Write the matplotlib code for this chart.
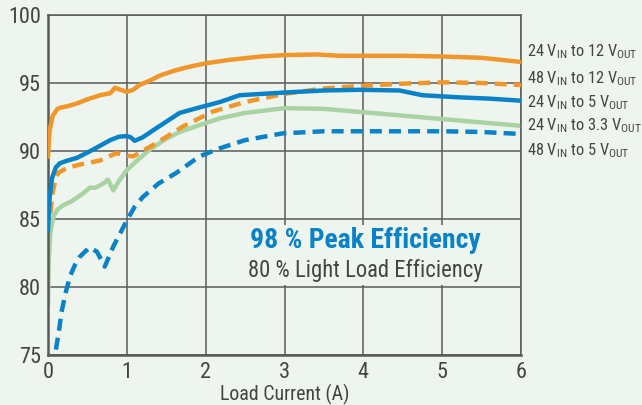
import matplotlib
matplotlib.use("Agg")
import matplotlib.pyplot as plt
from matplotlib import font_manager
from matplotlib.patches import Rectangle

# --- Data ---
x_24_12 = [0, 0.02, 0.06, 0.12, 0.17, 0.25, 0.37, 0.5, 0.66, 0.79, 0.85, 0.92, 1.0, 1.08, 1.16, 1.3, 1.42, 1.6, 1.76, 2.0, 2.3, 2.7, 3.0, 3.4, 3.7, 4.0, 4.5, 5.0, 5.5, 6.0]
y_24_12 = [89.6, 91.5, 92.6, 93.1, 93.2, 93.3, 93.5, 93.8, 94.1, 94.25, 94.65, 94.5, 94.35, 94.5, 94.85, 95.2, 95.55, 95.9, 96.15, 96.45, 96.7, 96.95, 97.05, 97.1, 97.0, 97.0, 97.0, 96.95, 96.85, 96.55]

x_48_12 = [0.03, 0.06, 0.1, 0.13, 0.24, 0.4, 0.66, 0.87, 0.95, 1.08, 1.2, 1.38, 1.71, 2.09, 2.5, 3.0, 3.5, 4.0, 4.5, 5.0, 5.5, 6.0]
y_48_12 = [85.4, 87.0, 88.0, 88.4, 88.75, 89.0, 89.3, 89.85, 89.7, 89.6, 90.0, 90.6, 91.8, 92.9, 93.6, 94.2, 94.6, 94.8, 94.95, 95.05, 95.0, 94.85]

x_24_5 = [0.0, 0.02, 0.05, 0.1, 0.15, 0.25, 0.37, 0.57, 0.79, 0.9, 1.0, 1.05, 1.1, 1.2, 1.38, 1.67, 1.92, 2.18, 2.43, 3.0, 3.5, 3.95, 4.46, 4.75, 5.2, 5.6, 6.0]
y_24_5 = [84.2, 86.5, 88.0, 88.8, 89.1, 89.3, 89.5, 90.1, 90.8, 91.05, 91.1, 91.0, 90.75, 91.0, 91.7, 92.8, 93.2, 93.6, 94.1, 94.3, 94.45, 94.5, 94.45, 94.1, 93.95, 93.85, 93.7]

x_24_33 = [0.0, 0.01, 0.03, 0.07, 0.12, 0.19, 0.3, 0.45, 0.53, 0.6, 0.7, 0.76, 0.83, 0.9, 1.0, 1.15, 1.29, 1.5, 1.67, 1.92, 2.18, 2.5, 3.0, 3.5, 4.0, 4.5, 5.0, 5.5, 6.0]
y_24_33 = [78.8, 82.0, 84.0, 85.2, 85.7, 86.0, 86.3, 86.9, 87.3, 87.3, 87.6, 87.9, 87.1, 87.8, 88.6, 89.4, 90.1, 90.9, 91.4, 91.9, 92.4, 92.8, 93.15, 93.1, 92.85, 92.6, 92.35, 92.1, 91.85]

x_48_5 = [0.1, 0.14, 0.17, 0.22, 0.28, 0.34, 0.4, 0.47, 0.53, 0.62, 0.72, 0.83, 0.92, 1.0, 1.1, 1.2, 1.4, 1.63, 1.92, 2.18, 2.5, 2.98, 3.5, 4.0, 5.0, 5.5, 6.0]
y_48_5 = [75.4, 76.8, 78.1, 79.5, 80.8, 81.6, 82.2, 82.6, 82.9, 82.6, 81.5, 83.0, 84.0, 84.9, 85.9, 86.6, 87.6, 88.4, 89.6, 90.2, 90.8, 91.3, 91.45, 91.45, 91.45, 91.4, 91.25]

series_labels = [
    r"24 V$_{\mathrm{IN}}$ to 12 V$_{\mathrm{OUT}}$",
    r"48 V$_{\mathrm{IN}}$ to 12 V$_{\mathrm{OUT}}$",
    r"24 V$_{\mathrm{IN}}$ to 5 V$_{\mathrm{OUT}}$",
    r"24 V$_{\mathrm{IN}}$ to 3.3 V$_{\mathrm{OUT}}$",
    r"48 V$_{\mathrm{IN}}$ to 5 V$_{\mathrm{OUT}}$",
]
x_ticks = [0, 1, 2, 3, 4, 5, 6]
y_ticks = [75, 80, 85, 90, 95, 100]

# --- Style ---
names = {f.name for f in font_manager.fontManager.ttflist}
font = "Roboto"
for cand in ["Roboto Condensed", "Liberation Sans Narrow", "Open Sans Condensed"]:
    if cand in names:
        font = cand
        break
plt.rcParams["font.family"] = [font, "DejaVu Sans"]
plt.rcParams["mathtext.fontset"] = "custom"
plt.rcParams["mathtext.rm"] = font

bg = "#eef5ee"
orange = "#f0962a"
blue = "#0a82c8"
green = "#a9d3a3"
text_col = "#444444"
grid_col = "#5a5a5a"

fig = plt.figure(figsize=(6.42, 4.05), dpi=100, facecolor=bg)
ax = fig.add_axes([48 / 642, 1 - 355 / 405, (521 - 48) / 642, (355 - 15) / 405])
ax.set_facecolor(bg)

lw = 3.2
dash = (2.7, 1.6)
ax.plot(x_24_12, y_24_12, color=orange, lw=lw, zorder=4)
ax.plot(x_48_12, y_48_12, color=orange, lw=lw, ls=(0, dash), zorder=3)
ax.plot(x_24_5, y_24_5, color=blue, lw=lw, zorder=4)
ax.plot(x_24_33, y_24_33, color=green, lw=lw, zorder=2)
ax.plot(x_48_5, y_48_5, color=blue, lw=lw, ls=(0, dash), zorder=3)

ax.set_xlim(0, 6)
ax.set_ylim(75, 100)
ax.set_xticks(x_ticks)
ax.set_yticks(y_ticks)
ax.grid(True, color=grid_col, lw=1.1, zorder=0)
ax.set_axisbelow(True)
for side, sp in ax.spines.items():
    sp.set_color(grid_col)
    sp.set_linewidth(1.1)
ax.spines["left"].set_linewidth(1.8)
ax.spines["bottom"].set_linewidth(1.8)
ax.tick_params(length=0, pad=5, labelsize=16, colors=text_col)
ax.set_xlabel("Load Current (A)", fontsize=14.3, color=text_col, labelpad=1)

# right-hand series labels (baseline positions in pixels)
label_y = [56, 83, 107, 130, 155]
for lab, py in zip(series_labels, label_y):
    fig.text(527 / 642, 1 - py / 405, lab, fontsize=11.8, color=text_col,
             ha="left", va="baseline")

# blank panel behind the annotation (hides the grid there)
ax.add_patch(Rectangle((2.37, 80.15), 3.3, 4.4, facecolor=bg, edgecolor="none", zorder=1))
ax.text(4.02, 83.4, "98 % Peak Efficiency", fontsize=20, fontweight="bold",
        color=blue, ha="center", va="center", zorder=5)
ax.text(4.02, 81.2, "80 % Light Load Efficiency", fontsize=16.3,
        color=text_col, ha="center", va="center", zorder=5)

fig.savefig("out.png", dpi=100, facecolor=bg)
